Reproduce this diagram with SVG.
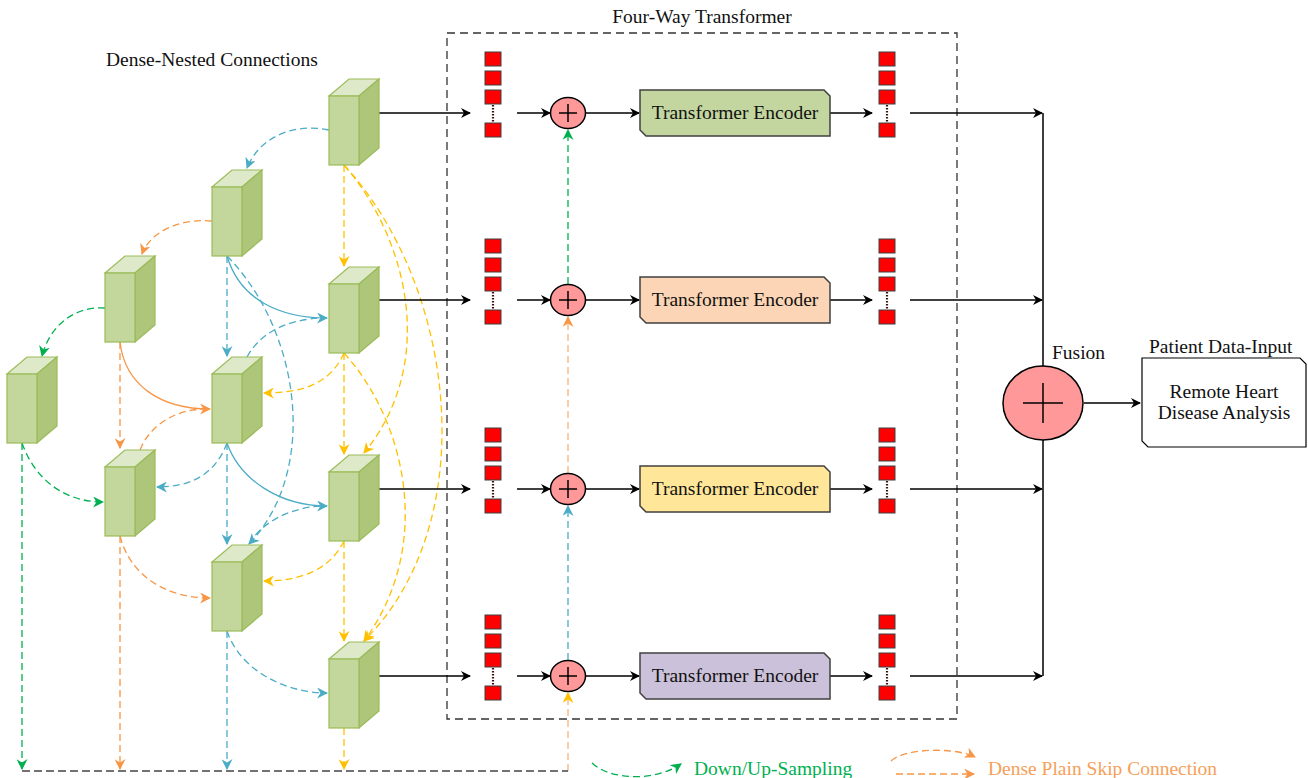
<svg xmlns="http://www.w3.org/2000/svg" width="1308" height="778" viewBox="0 0 1308 778">
<style>
text{font-family:"Liberation Serif","Times New Roman",serif;font-size:19.5px;fill:#111}
.cf{fill:#c3d69b;stroke:#9bbb59;stroke-width:1.2}
.ct{fill:#dde9c8;stroke:#9bbb59;stroke-width:1.2}
.cs{fill:#adc67a;stroke:#9bbb59;stroke-width:1.2}
.tok{fill:#ff0000;stroke:#404040;stroke-width:1}
.dots{stroke:#3a1010;stroke-width:2.2;stroke-dasharray:1.5 1.5}
.blk{stroke:#000;stroke-width:1.5;fill:none;marker-end:url(#ak)}
.ln{stroke:#000;stroke-width:1.5;fill:none}
.d{fill:none;stroke-width:1.3;stroke-dasharray:7 4}
.s{fill:none;stroke-width:1.3}
.b{stroke:#4bacc6;marker-end:url(#ab)}
.o{stroke:#f79646;marker-end:url(#ao)}
.lo{stroke:#f8b27a}
.g{stroke:#00b050;marker-end:url(#ag)}
.y{stroke:#ffc000;marker-end:url(#ay)}
.nm{marker-end:none}
.enc{stroke:#404040;stroke-width:1.5}
.pc{fill:#ff9999;stroke:#000;stroke-width:1.5}
.pl{stroke:#000;stroke-width:1.5}
</style>
<defs>
<marker id="ab" viewBox="0 0 10 10" refX="9" refY="5" markerWidth="11" markerHeight="11" markerUnits="userSpaceOnUse" orient="auto"><path d="M0,0 L10,5 L0,10 L3,5 z" fill="#4bacc6"/></marker>
<marker id="ao" viewBox="0 0 10 10" refX="9" refY="5" markerWidth="11" markerHeight="11" markerUnits="userSpaceOnUse" orient="auto"><path d="M0,0 L10,5 L0,10 L3,5 z" fill="#f79646"/></marker>
<marker id="ag" viewBox="0 0 10 10" refX="9" refY="5" markerWidth="11" markerHeight="11" markerUnits="userSpaceOnUse" orient="auto"><path d="M0,0 L10,5 L0,10 L3,5 z" fill="#00b050"/></marker>
<marker id="ay" viewBox="0 0 10 10" refX="9" refY="5" markerWidth="11" markerHeight="11" markerUnits="userSpaceOnUse" orient="auto"><path d="M0,0 L10,5 L0,10 L3,5 z" fill="#ffc000"/></marker>
<marker id="ak" viewBox="0 0 10 10" refX="9" refY="5" markerWidth="12" markerHeight="10" markerUnits="userSpaceOnUse" orient="auto"><path d="M0,0 L10,5 L0,10 L3,5 z" fill="#000"/></marker>
<g id="cube">
<polygon class="ct" points="0,0 20,-17 50,-17 30,0"/>
<polygon class="cs" points="30,0 50,-17 50,52 30,69"/>
<rect class="cf" x="0" y="0" width="30" height="69"/>
</g>
<g id="stack">
<rect class="tok" x="0" y="-61" width="16" height="14"/>
<rect class="tok" x="0" y="-42" width="16" height="14"/>
<rect class="tok" x="0" y="-23" width="16" height="14"/>
<line class="dots" x1="8" y1="-8" x2="8" y2="10"/>
<rect class="tok" x="0" y="10" width="16" height="14"/>
</g>
<g id="plus">
<ellipse class="pc" cx="0" cy="0" rx="17.5" ry="15.5"/>
<line class="pl" x1="-9" y1="0" x2="9" y2="0"/>
<line class="pl" x1="0" y1="-9" x2="0" y2="9"/>
</g>
</defs>

<rect x="0" y="0" width="1308" height="778" fill="#fff"/>

<text x="106" y="66">Dense-Nested Connections</text>
<text x="702" y="23" text-anchor="middle">Four-Way Transformer</text>
<rect id="four-way-box" x="447" y="33" width="510" height="686" fill="none" stroke="#333" stroke-width="1.3" stroke-dasharray="8 5"/>

<g id="connectors">
<!-- blue -->
<path class="d b" d="M329,130 C290,122 258,140 247,168"/>
<path class="d b" d="M227,256 V356"/>
<path class="s b" d="M227,256 C240,300 280,318 327,318"/>
<path class="d b nm" d="M247,357 C262,330 290,320 320,318"/>
<path class="d b" d="M227,256 C300,330 320,470 249,544"/>
<path class="d b" d="M227,443 C215,475 190,487 157,487"/>
<path class="d b" d="M227,443 V544"/>
<path class="s b" d="M227,443 C240,480 280,506 327,506"/>
<path class="d b nm" d="M249,544 C262,522 290,508 320,506"/>
<path class="d b" d="M227,631 C240,670 285,693 327,693"/>
<path class="d b" d="M227,631 V769"/>
<path class="d b" d="M568,660 V506"/>
<!-- orange -->
<path class="d o" d="M212,221 C180,218 150,232 142,254"/>
<path class="d o" d="M120,342 V448"/>
<path class="s o" d="M120,342 C125,385 160,409 210,409"/>
<path class="d o nm" d="M140,450 C150,425 175,410 203,409"/>
<path class="d o" d="M120,536 C130,575 165,598 210,598"/>
<path class="d o" d="M120,536 V769"/>
<path class="d lo" d="M568,473 V317" marker-end="url(#ao)"/>
<!-- green -->
<path class="d g" d="M105,308 C75,306 50,325 42,356"/>
<path class="d g" d="M22,443 C35,480 65,502 103,502"/>
<path class="d g" d="M22,443 V769"/>
<path class="d g" d="M568,284 V130"/>
<!-- yellow -->
<path class="d y" d="M344,165 V266"/>
<path class="d y" d="M344,165 C405,235 440,360 364,453"/>
<path class="d y" d="M344,165 C455,285 485,520 364,641"/>
<path class="d y" d="M344,353 C330,385 300,393 264,393"/>
<path class="d y" d="M344,353 V454"/>
<path class="d y" d="M344,353 C405,420 435,545 364,641"/>
<path class="d y" d="M344,541 C330,570 300,581 264,581"/>
<path class="d y" d="M344,541 V641"/>
<path class="d y" d="M344,728 V769"/>
<path class="d lo" d="M568,771 V693" marker-end="url(#ay)"/>
<!-- bottom collector -->
<path d="M22,771 H568" fill="none" stroke="#444" stroke-width="1.3" stroke-dasharray="8 4"/>
<!-- black arrows -->
<path class="blk" d="M378,113 H470"/>
<path class="blk" d="M378,300 H470"/>
<path class="blk" d="M378,489 H470"/>
<path class="blk" d="M378,676 H470"/>
<path class="blk" d="M517,113 H550"/>
<path class="blk" d="M517,300 H550"/>
<path class="blk" d="M517,489 H550"/>
<path class="blk" d="M517,676 H550"/>
<path class="blk" d="M586,113 H639"/>
<path class="blk" d="M586,300 H639"/>
<path class="blk" d="M586,489 H639"/>
<path class="blk" d="M586,676 H639"/>
<path class="blk" d="M830,113 H872"/>
<path class="blk" d="M830,300 H872"/>
<path class="blk" d="M830,489 H872"/>
<path class="blk" d="M830,676 H872"/>
<path class="blk" d="M910,113 H1042"/>
<path class="blk" d="M910,300 H1042"/>
<path class="blk" d="M910,489 H1042"/>
<path class="blk" d="M910,676 H1042"/>
<path class="ln" d="M1043,113 V366 M1043,440 V676"/>
<path class="blk" d="M1084,403 H1140"/>
</g>

<g id="cube-x00"><use href="#cube" x="329" y="96"/></g>
<g id="cube-x10"><use href="#cube" x="212" y="187"/></g>
<g id="cube-x20"><use href="#cube" x="105" y="273"/></g>
<g id="cube-x30"><use href="#cube" x="7" y="374"/></g>
<g id="cube-x01"><use href="#cube" x="329" y="284"/></g>
<g id="cube-x11"><use href="#cube" x="212" y="374"/></g>
<g id="cube-x21"><use href="#cube" x="105" y="467"/></g>
<g id="cube-x02"><use href="#cube" x="329" y="472"/></g>
<g id="cube-x12"><use href="#cube" x="212" y="562"/></g>
<g id="cube-x03"><use href="#cube" x="329" y="659"/></g>

<g id="tokens-in"><use href="#stack" x="485" y="113"/><use href="#stack" x="485" y="300"/><use href="#stack" x="485" y="489"/><use href="#stack" x="485" y="676"/></g>
<g id="tokens-out"><use href="#stack" x="879" y="113"/><use href="#stack" x="879" y="300"/><use href="#stack" x="879" y="489"/><use href="#stack" x="879" y="676"/></g>
<g id="adders"><use href="#plus" x="568" y="113"/><use href="#plus" x="568" y="300"/><use href="#plus" x="568" y="489"/><use href="#plus" x="568" y="676"/></g>

<g id="encoder-1"><path class="enc" fill="#c4d6a0" d="M640,90 H824 L830,96 V136 H646 L640,130 Z"/><text x="735" y="119" text-anchor="middle">Transformer Encoder</text></g>
<g id="encoder-2"><path class="enc" fill="#fbd5b5" d="M640,277 H824 L830,283 V323 H646 L640,317 Z"/><text x="735" y="306" text-anchor="middle">Transformer Encoder</text></g>
<g id="encoder-3"><path class="enc" fill="#ffe699" d="M640,466 H824 L830,472 V512 H646 L640,506 Z"/><text x="735" y="495" text-anchor="middle">Transformer Encoder</text></g>
<g id="encoder-4"><path class="enc" fill="#ccc1da" d="M640,653 H824 L830,659 V699 H646 L640,693 Z"/><text x="735" y="682" text-anchor="middle">Transformer Encoder</text></g>

<g id="fusion">
<ellipse cx="1043" cy="403" rx="40" ry="37" fill="#ff9999" stroke="#000" stroke-width="1.5"/>
<line class="pl" x1="1023" y1="403" x2="1063" y2="403"/>
<line class="pl" x1="1043" y1="383" x2="1043" y2="423"/>
<text x="1052" y="359">Fusion</text>
</g>

<g id="analysis">
<text x="1149" y="353">Patient Data-Input</text>
<path d="M1142,358 H1300 L1306,364 V447 H1148 L1142,441 Z" fill="#fff" stroke="#000" stroke-width="1.2"/>
<text x="1224" y="398" text-anchor="middle">Remote Heart</text>
<text x="1224" y="419" text-anchor="middle">Disease Analysis</text>
</g>

<g id="legend">
<path class="d g" d="M592,763 C610,780 655,782 681,764"/>
<text x="694" y="775" style="fill:#00b050">Down/Up-Sampling</text>
<path class="d o" d="M891,761 C905,748 955,747 975,757"/>
<path class="d o" d="M896,774 H974"/>
<text x="988" y="775" style="fill:#f6a05a">Dense Plain Skip Connection</text>
</g>
</svg>
